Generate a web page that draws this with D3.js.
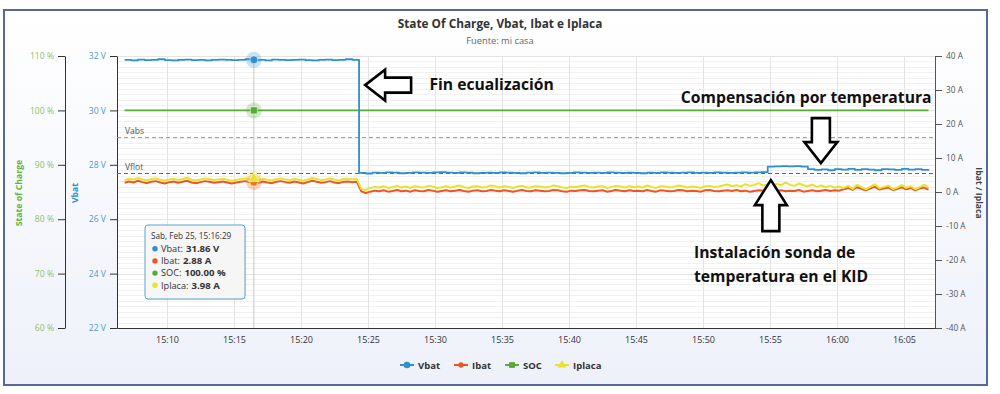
<!DOCTYPE html>
<html>
<head>
<meta charset="utf-8">
<script src="https://cdn.jsdelivr.net/npm/d3@7"></script>
<style>
  body { margin: 0; background: #fff; }
  svg { display: block; font-family: "Open Sans", sans-serif; }
</style>
</head>
<body>
<div id="vis-container"></div>
<script>
/* DATA */

// Vbat, one sample every 30 s from 15:06:50
const vbatStart = "15:06:50", vbatStep = 30;
const vbatValues = [
  31.86, 31.84, 31.87, 31.85, 31.86, 31.88, 31.85, 31.84, 31.86, 31.87,
  31.85, 31.86, 31.84, 31.86, 31.87, 31.86, 31.85, 31.86, 31.88, 31.85,
  31.86, 31.84, 31.87, 31.86, 31.85, 31.86, 31.87, 31.85, 31.84, 31.86,
  31.87, 31.85, 31.86, 31.88, 31.86,
  27.70, 27.68, 27.71, 27.70, 27.72, 27.71, 27.69, 27.70, 27.72, 27.71,
  27.70, 27.72, 27.73, 27.71, 27.70, 27.72, 27.71, 27.69, 27.70, 27.71,
  27.70, 27.72, 27.71, 27.70, 27.69, 27.71, 27.72, 27.70, 27.71, 27.70,
  27.69, 27.70, 27.72, 27.71, 27.70, 27.71, 27.70, 27.72, 27.71, 27.70,
  27.71, 27.70, 27.69, 27.71, 27.70, 27.72, 27.71, 27.70, 27.71, 27.72,
  27.70, 27.71, 27.70, 27.72, 27.71, 27.70, 27.71, 27.72, 27.71, 27.72, 27.73,
  27.93, 27.94, 27.95, 27.94, 27.95, 27.93,
  27.84, 27.81, 27.83, 27.80, 27.84, 27.82, 27.85, 27.81, 27.84, 27.82,
  27.80, 27.84, 27.83, 27.81, 27.85, 27.82, 27.84, 27.81, 27.84
];

// Ibat / Iplaca, one sample every 20 s from 15:06:50
const currentStart = "15:06:50", currentStep = 20;
const ibatValues = [
  2.7, 3.1, 2.8, 3.3, 2.9, 2.6, 3.0, 3.2, 2.8, 2.5, 2.9, 3.1, 2.7, 3.0, 3.3, 2.8, 2.6, 2.9, 3.2, 3.0,
  2.7, 2.9, 3.1, 2.8, 2.5, 2.8, 3.0, 3.2, 2.9, 2.88, 2.7, 3.1, 2.8, 2.6, 3.0, 3.2, 2.9, 2.7, 3.1, 2.8,
  2.5, 2.9, 3.3, 3.0, 2.7, 2.9, 3.2, 2.8, 2.6, 3.0, 3.1, 2.9, 3.0,
  0.2, -0.3, 0.1, 0.4, 0.2, 0.5, 0.1, 0.3, 0.6, 0.2, 0.4, 0.1, 0.5, 0.3, 0.2, 0.6, 0.4, 0.1, 0.3, 0.5,
  0.2, 0.4, 0.6, 0.3, 0.1, 0.4, 0.5, 0.2, 0.3, 0.6, 0.4, 0.2, 0.5, 0.3, 0.1, 0.4, 0.6, 0.3, 0.2, 0.5,
  0.4, 0.2, 0.3, 0.6, 0.5, 0.2, 0.1, 0.4, 0.3, 0.5, 0.6, 0.3, 0.2, 0.4, 0.5, 0.1, 0.3, 0.6, 0.4, 0.2,
  0.5, 0.3, 0.4, 0.2, 0.6, 0.3, 0.1, 0.5, 0.4, 0.2, 0.3, 0.6, 0.5, 0.2, 0.4, 0.3, 0.1, 0.5, 0.6, 0.3,
  0.2, 0.4, 0.5, 0.3, 0.6, 0.2, 0.4, 0.1, 0.3, 0.5, 0.4, 0.2, 0.6, 0.3, 0.5, 0.2, 0.4, 0.3, 0.6, 0.1,
  0.3, 0.5, 0.2, 0.4, 0.6, 0.3, 0.5, 0.4,
  0.8, 1.2, 0.6, 1.4, 0.9, 0.5, 1.1, 1.5, 0.7, 1.0, 1.3, 0.6, 0.9, 1.4, 0.8, 1.2, 0.5, 1.0, 1.3, 0.7
];
const iplacaValues = [
  3.5, 3.9, 3.6, 4.1, 3.7, 3.4, 3.8, 4.0, 3.6, 3.3, 3.7, 3.9, 3.5, 3.8, 4.2, 3.6, 3.4, 3.7, 4.0, 3.8,
  3.5, 3.7, 3.9, 3.6, 3.3, 3.6, 3.8, 4.0, 3.7, 3.98, 3.5, 3.9, 3.6, 3.4, 3.8, 4.0, 3.7, 3.5, 3.9, 3.6,
  3.3, 3.7, 4.1, 3.8, 3.5, 3.7, 4.0, 3.6, 3.4, 3.8, 3.9, 3.7, 3.8,
  0.9, 0.6, 1.2, 1.5, 1.3, 1.7, 1.2, 1.4, 1.8, 1.3, 1.6, 1.2, 1.7, 1.5, 1.3, 1.8, 1.6, 1.2, 1.4, 1.7,
  1.3, 1.6, 1.9, 1.4, 1.2, 1.6, 1.7, 1.3, 1.5, 1.9, 1.6, 1.3, 1.7, 1.5, 1.2, 1.6, 1.8, 1.4, 1.3, 1.7,
  1.6, 1.3, 1.5, 1.9, 1.7, 1.3, 1.2, 1.6, 1.4, 1.7, 1.9, 1.5, 1.3, 1.6, 1.7, 1.2, 1.5, 1.8, 1.6, 1.3,
  1.7, 1.5, 1.6, 1.3, 1.9, 1.5, 1.2, 1.7, 1.6, 1.4, 1.5, 1.9, 1.7, 1.3, 1.6, 1.5, 1.2, 1.7, 1.8, 1.5,
  1.6, 1.9, 2.2, 1.7, 2.0, 1.6, 2.3, 1.8, 2.1, 2.6, 1.9, 2.2, 1.7, 2.4, 2.0, 2.8, 2.1, 1.8, 2.5, 2.0,
  1.7, 2.2, 1.5, 1.9, 1.4, 1.8, 1.3, 1.6,
  1.2, 1.8, 0.9, 2.1, 1.4, 0.8, 1.6, 2.3, 1.1, 1.5, 1.9, 0.9, 1.3, 2.0, 1.2, 1.7, 0.8, 1.4, 2.2, 1.3
];

const socTimes = ["15:06:50", "16:06:50"];
const socValues = [100, 100];

const setpointNames = ["Vabs", "Vflot"];
const setpointValues = [29.0, 27.68];

const timeDomain = ["15:06:16", "16:07:19"];
const voltTicks = [22, 24, 26, 28, 30, 32];
const socTicks = [60, 70, 80, 90, 100, 110];
const ampTicks = [-40, -30, -20, -10, 0, 10, 20, 30, 40];

const seriesNames = ["Vbat", "Ibat", "SOC", "Iplaca"];
const seriesUnits = ["V", "A", "%", "A"];
const hoverTime = "15:16:29";
const hoverLabel = "Sab, Feb 25, 15:16:29";
const hoverValues = [31.86, 2.88, 100.00, 3.98];

// annotations: anchor time, value on the axis given, text lines
const notes = [
  { text: ["Fin ecualización"], time: "15:29:35", axis: "V", value: 30.75 },
  { text: ["Compensación por temperatura"], time: "15:48:21", axis: "A", value: 26.2 },
  { text: ["Instalación sonda de", "temperatura en el KID"], time: "15:49:20", axis: "A", value: -19.5 }
];
const arrows = [
  { dir: "left", time: "15:24:47", axis: "V", value: 30.93 },
  { dir: "down", time: "15:58:48", axis: "A", value: 8.5 },
  { dir: "up", time: "15:55:04", axis: "A", value: 3.5 }
];

/* CHART */

const colors = { Vbat: "#2f90cf", Ibat: "#ee5424", SOC: "#55ad35", Iplaca: "#e8e22c" };

const width = 1000, height = 394,
  pLeft = 117, pRight = 935, pTop = 56, pBottom = 328;

const parse = d3.timeParse("%H:%M:%S");
const addSec = (s, n) => new Date(parse(s).getTime() + n * 1000);

const vbatData = vbatValues.map((v, i) => ({ t: addSec(vbatStart, i * vbatStep), v: v }));
const ibatData = ibatValues.map((v, i) => ({ t: addSec(currentStart, i * currentStep), v: v }));
const iplacaData = iplacaValues.map((v, i) => ({ t: addSec(currentStart, i * currentStep), v: v }));
const socData = socValues.map((v, i) => ({ t: parse(socTimes[i]), v: v }));

let x = d3.scaleTime().domain(timeDomain.map(parse)).range([pLeft, pRight]);
let yV = d3.scaleLinear().domain([22, 32]).range([pBottom, pTop]);
let yS = d3.scaleLinear().domain([60, 110]).range([pBottom, pTop]);
let yA = d3.scaleLinear().domain([-40, 40]).range([pBottom, pTop]);
const yOf = { V: yV, A: yA, S: yS };

let svg = d3.select('#vis-container')
  .append('svg')
  .attr('width', width)
  .attr('height', height);

let defs = svg.append("defs");
let grad = defs.append("linearGradient").attr("id", "bg").attr("x1", 0).attr("x2", 0).attr("y1", 0).attr("y2", 1);
grad.append("stop").attr("offset", "0%").attr("stop-color", "#ffffff");
grad.append("stop").attr("offset", "100%").attr("stop-color", "#eef1fa");

svg.append("rect")
  .attr("x", 4).attr("y", 10).attr("width", 983).attr("height", 375)
  .attr("fill", "url(#bg)").attr("stroke", "#56699a").attr("stroke-width", 2);

svg.append("rect")
  .attr("x", pLeft).attr("y", pTop).attr("width", pRight - pLeft).attr("height", pBottom - pTop)
  .attr("fill", "#fff");

// title
svg.append("text").attr("x", 500).attr("y", 28).attr("text-anchor", "middle")
  .attr("font-size", 11.8).attr("font-weight", "bold").attr("fill", "#333")
  .text("State Of Charge, Vbat, Ibat e Iplaca");
svg.append("text").attr("x", 500).attr("y", 44).attr("text-anchor", "middle")
  .attr("font-size", 9.3).attr("fill", "#666")
  .text("Fuente: mi casa");

// grid
let grid = svg.append("g");
grid.selectAll(".minor").data(d3.range(22, 32.01, 0.2)).join("line")
  .attr("x1", pLeft).attr("x2", pRight)
  .attr("y1", d => Math.round(yV(d)) + 0.5).attr("y2", d => Math.round(yV(d)) + 0.5)
  .attr("stroke", "#f1f1f1");
grid.selectAll(".major").data(voltTicks).join("line")
  .attr("x1", pLeft).attr("x2", pRight)
  .attr("y1", d => Math.round(yV(d)) + 0.5).attr("y2", d => Math.round(yV(d)) + 0.5)
  .attr("stroke", "#e4e4e4");
grid.selectAll(".vx").data(x.ticks(d3.timeMinute.every(5))).join("line")
  .attr("x1", d => Math.round(x(d)) + 0.5).attr("x2", d => Math.round(x(d)) + 0.5)
  .attr("y1", pTop).attr("y2", pBottom)
  .attr("stroke", "#e4e4e4");

// axes
const styleAxis = (g, color, lineColor, size) => {
  g.selectAll("text").attr("fill", color).attr("font-size", size).attr("font-family", "Open Sans, sans-serif");
  g.selectAll("line").attr("stroke", lineColor);
  g.select(".domain").attr("stroke", lineColor);
};

svg.append("g").attr("transform", "translate(65,0)")
  .call(d3.axisLeft(yS).tickValues(socTicks).tickSize(7).tickSizeOuter(0).tickPadding(4).tickFormat(d => d + " %"))
  .call(g => styleAxis(g, "#8cc06a", "#333", 8.6));

svg.append("g").attr("transform", `translate(${pLeft},0)`)
  .call(d3.axisLeft(yV).tickValues(voltTicks).tickSize(7).tickSizeOuter(0).tickPadding(4).tickFormat(d => d + " V"))
  .call(g => styleAxis(g, "#4d9cc9", "#333", 8.6));

svg.append("g").attr("transform", `translate(${pRight},0)`)
  .call(d3.axisRight(yA).tickValues(ampTicks).tickSize(7).tickSizeOuter(0).tickPadding(4).tickFormat(d => d + " A"))
  .call(g => styleAxis(g, "#555", "#555", 8.3));

svg.append("g").attr("transform", `translate(0,${pBottom})`)
  .call(d3.axisBottom(x).ticks(d3.timeMinute.every(5)).tickSize(0).tickSizeOuter(0).tickPadding(9).tickFormat(d3.timeFormat("%H:%M")))
  .call(g => styleAxis(g, "#333", "#333", 9));

// axis titles
svg.append("text").attr("transform", "translate(22,193) rotate(-90)").attr("text-anchor", "middle")
  .attr("font-size", 8.7).attr("font-weight", "bold").attr("fill", "#64b23c").text("State of Charge");
svg.append("text").attr("transform", "translate(78,193) rotate(-90)").attr("text-anchor", "middle")
  .attr("font-size", 8.7).attr("font-weight", "bold").attr("fill", "#2a8fc7").text("Vbat");
svg.append("text").attr("transform", "translate(976,193) rotate(90)").attr("text-anchor", "middle")
  .attr("font-size", 8.7).attr("font-weight", "bold").attr("fill", "#444").text("Ibat / Iplaca");

// setpoint lines
const spColors = ["#86a886", "#b84444"];
setpointValues.forEach((v, i) => {
  svg.append("line").attr("x1", pLeft).attr("x2", pRight)
    .attr("y1", yV(v)).attr("y2", yV(v))
    .attr("stroke", spColors[i]).attr("stroke-width", 1).attr("stroke-dasharray", "4,3");
  svg.append("text").attr("x", pLeft + 8).attr("y", yV(v) - 4)
    .attr("font-size", 8.5).attr("fill", "#555").text(setpointNames[i]);
});

// hover crosshair
const hx = x(parse(hoverTime));
svg.append("line").attr("x1", hx).attr("x2", hx).attr("y1", pTop).attr("y2", pBottom)
  .attr("stroke", "#c8c8c8").attr("stroke-width", 1);

// series
const lineOn = (scale, curve) => d3.line().x(d => x(d.t)).y(d => scale(d.v)).curve(curve);

svg.append("path").datum(socData)
  .attr("fill", "none").attr("stroke", colors.SOC).attr("stroke-width", 1.8)
  .attr("d", lineOn(yS, d3.curveLinear));

svg.append("path").datum(vbatData)
  .attr("fill", "none").attr("stroke", colors.Vbat).attr("stroke-width", 1.8)
  .attr("stroke-linejoin", "round")
  .attr("d", lineOn(yV, d3.curveStepAfter));

svg.append("path").datum(ibatData)
  .attr("fill", "none").attr("stroke", colors.Ibat).attr("stroke-width", 2)
  .attr("stroke-linejoin", "round")
  .attr("d", lineOn(yA, d3.curveLinear));

svg.append("path").datum(iplacaData)
  .attr("fill", "none").attr("stroke", colors.Iplaca).attr("stroke-width", 2)
  .attr("stroke-linejoin", "round")
  .attr("d", lineOn(yA, d3.curveLinear));

// hover markers
const hoverScales = [yV, yA, yS, yA];
const symbols = [d3.symbolCircle, d3.symbolCircle, d3.symbolSquare, d3.symbolTriangle];
[1, 0, 2, 3].forEach(i => {
  const name = seriesNames[i];
  const hy = hoverScales[i](hoverValues[i]);
  svg.append("circle").attr("cx", hx).attr("cy", hy).attr("r", 8)
    .attr("fill", colors[name]).attr("fill-opacity", 0.25);
  svg.append("path").attr("transform", `translate(${hx},${hy})`)
    .attr("d", d3.symbol().type(symbols[i]).size(48)())
    .attr("fill", colors[name]).attr("stroke", "#fff").attr("stroke-width", 0.5);
});

// tooltip
let tip = svg.append("g").attr("transform", "translate(145,225)");
tip.append("rect").attr("x", 1).attr("y", 1).attr("width", 100).attr("height", 74).attr("rx", 3)
  .attr("fill", "#000").attr("fill-opacity", 0.08);
tip.append("rect").attr("width", 100).attr("height", 74).attr("rx", 3)
  .attr("fill", "#f7f7f7").attr("fill-opacity", 0.95).attr("stroke", "#5aa5cf").attr("stroke-width", 1);
tip.append("text").attr("x", 6).attr("y", 14).attr("font-size", 8.2).attr("fill", "#333").text(hoverLabel);
seriesNames.forEach((name, i) => {
  const ty = 27 + i * 12.2;
  tip.append("circle").attr("cx", 10).attr("cy", ty - 3.3).attr("r", 2.7).attr("fill", colors[name]);
  const lab = tip.append("text").attr("x", 16).attr("y", ty).attr("font-size", 9.2).attr("fill", "#333")
    .text(name + ":");
  const labW = lab.node().getComputedTextLength();
  tip.append("text").attr("x", 16 + labW + 3).attr("y", ty).attr("font-size", 9.6)
    .attr("font-weight", "bold").attr("fill", "#333")
    .text(hoverValues[i].toFixed(2) + " " + seriesUnits[i]);
});

// annotations
notes.forEach(n => {
  const t = svg.append("text")
    .attr("x", x(parse(n.time))).attr("y", yOf[n.axis](n.value))
    .attr("font-size", 15.7).attr("font-weight", "bold").attr("fill", "#111");
  n.text.forEach((line, j) => {
    t.append("tspan").attr("x", x(parse(n.time))).attr("dy", j ? 24 : 0).text(line);
  });
});

const arrowShapes = {
  left: [[0, 0], [20, -15.5], [20, -7.5], [46, -7.5], [46, 7.5], [20, 7.5], [20, 15.5]],
  down: [[0, 0], [-16.5, -21], [-9, -21], [-9, -45], [9, -45], [9, -21], [16.5, -21]],
  up: [[0, 0], [-16, 25], [-8.5, 25], [-8.5, 51], [8.5, 51], [8.5, 25], [16, 25]]
};
arrows.forEach(a => {
  const ax = x(parse(a.time)), ay = yOf[a.axis](a.value);
  svg.append("path")
    .attr("transform", `translate(${ax},${ay})`)
    .attr("d", d3.line()(arrowShapes[a.dir]) + "Z")
    .attr("fill", "#fff").attr("stroke", "#000").attr("stroke-width", 2.6)
    .attr("stroke-linejoin", "miter");
});

// legend
const legendX = [400, 454, 505, 555];
let legend = svg.append("g").attr("transform", "translate(0,365)");
seriesNames.forEach((name, i) => {
  const lx = legendX[i];
  legend.append("line").attr("x1", lx).attr("x2", lx + 14).attr("stroke", colors[name]).attr("stroke-width", 2);
  legend.append("path").attr("transform", `translate(${lx + 7},0)`)
    .attr("d", d3.symbol().type(symbols[i]).size(i === 1 ? 22 : 34)())
    .attr("fill", colors[name]);
  legend.append("text").attr("x", lx + 18).attr("y", 3.5).attr("font-size", 9.5)
    .attr("font-weight", "bold").attr("fill", "#333").text(name);
});
</script>
</body>
</html>
